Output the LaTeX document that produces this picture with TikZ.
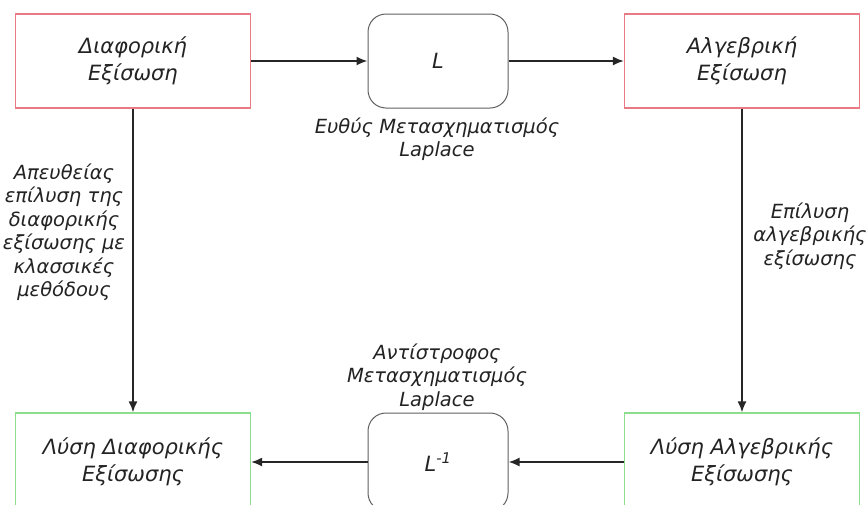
\documentclass[tikz,border=0pt]{standalone}
\usepackage{fontspec}
\setmainfont{DejaVu Sans}
\usepackage{xcolor}
\usetikzlibrary{arrows.meta}
\definecolor{eqred}{RGB}{232, 122, 134}
\definecolor{solgreen}{RGB}{140, 222, 140}
\definecolor{opgray}{RGB}{95, 95, 95}
\definecolor{textgray}{RGB}{35, 35, 35}

\begin{document}
\begin{tikzpicture}[x=1pt, y=-1pt,
    eqbox/.style={draw=eqred, line width=1.2pt, minimum width=235pt, minimum height=94pt,
        align=center, text=textgray, font=\itshape\fontsize{21}{27}\selectfont},
    solbox/.style={eqbox, draw=solgreen, minimum height=98pt},
    opbox/.style={draw=opgray, line width=1pt, rounded corners=18pt, minimum width=140pt,
        minimum height=94pt, text=textgray, font=\itshape\fontsize{21}{27}\selectfont},
    note/.style={align=center, text=textgray, font=\itshape\fontsize{19.5}{23.5}\selectfont},
    flow/.style={-{Latex[length=11pt, width=9pt]}, line width=1.8pt, draw=black!85}]
      \clip (0,0) rectangle (867,504);
      \useasboundingbox (0,0) rectangle (867,504);

      % Top row: equations
      \node[eqbox] (diffeq) at (133,61) {Διαφορική\\Εξίσωση};
      \node[opbox] (lap) at (438,61) {L};
      \node[eqbox] (algeq) at (742,61) {Αλγεβρική\\Εξίσωση};

      % Bottom row: solutions
      \node[solbox] (diffsol) at (133,462) {Λύση Διαφορικής\\Εξίσωσης};
      \node[opbox, minimum height=98pt] (invlap) at (438,462) {L\textsuperscript{-1}};
      \node[solbox] (algsol) at (742,462) {Λύση Αλγεβρικής\\Εξίσωσης};

      % Arrows
      \draw[flow] (diffeq) -- (lap);
      \draw[flow] (lap) -- (algeq);
      \draw[flow] (algeq) -- (algsol);
      \draw[flow] (algsol) -- (invlap);
      \draw[flow] (invlap) -- (diffsol);
      \draw[flow] (diffeq) -- (diffsol);

      % Labels
      \node[note] (fwdlbl) at (437,139) {Ευθύς Μετασχηματισμός\\Laplace};
      \node[note] (invlbl) at (437,377) {Αντίστροφος\\Μετασχηματισμός\\Laplace};
      \node[note] (directlbl) at (64,232) {Απευθείας\\επίλυση της\\διαφορικής\\εξίσωσης με\\κλασσικές\\μεθόδους};
      \node[note] (solvelbl) at (810,236) {Επίλυση\\αλγεβρικής\\εξίσωσης};
    \end{tikzpicture}
\end{document}
